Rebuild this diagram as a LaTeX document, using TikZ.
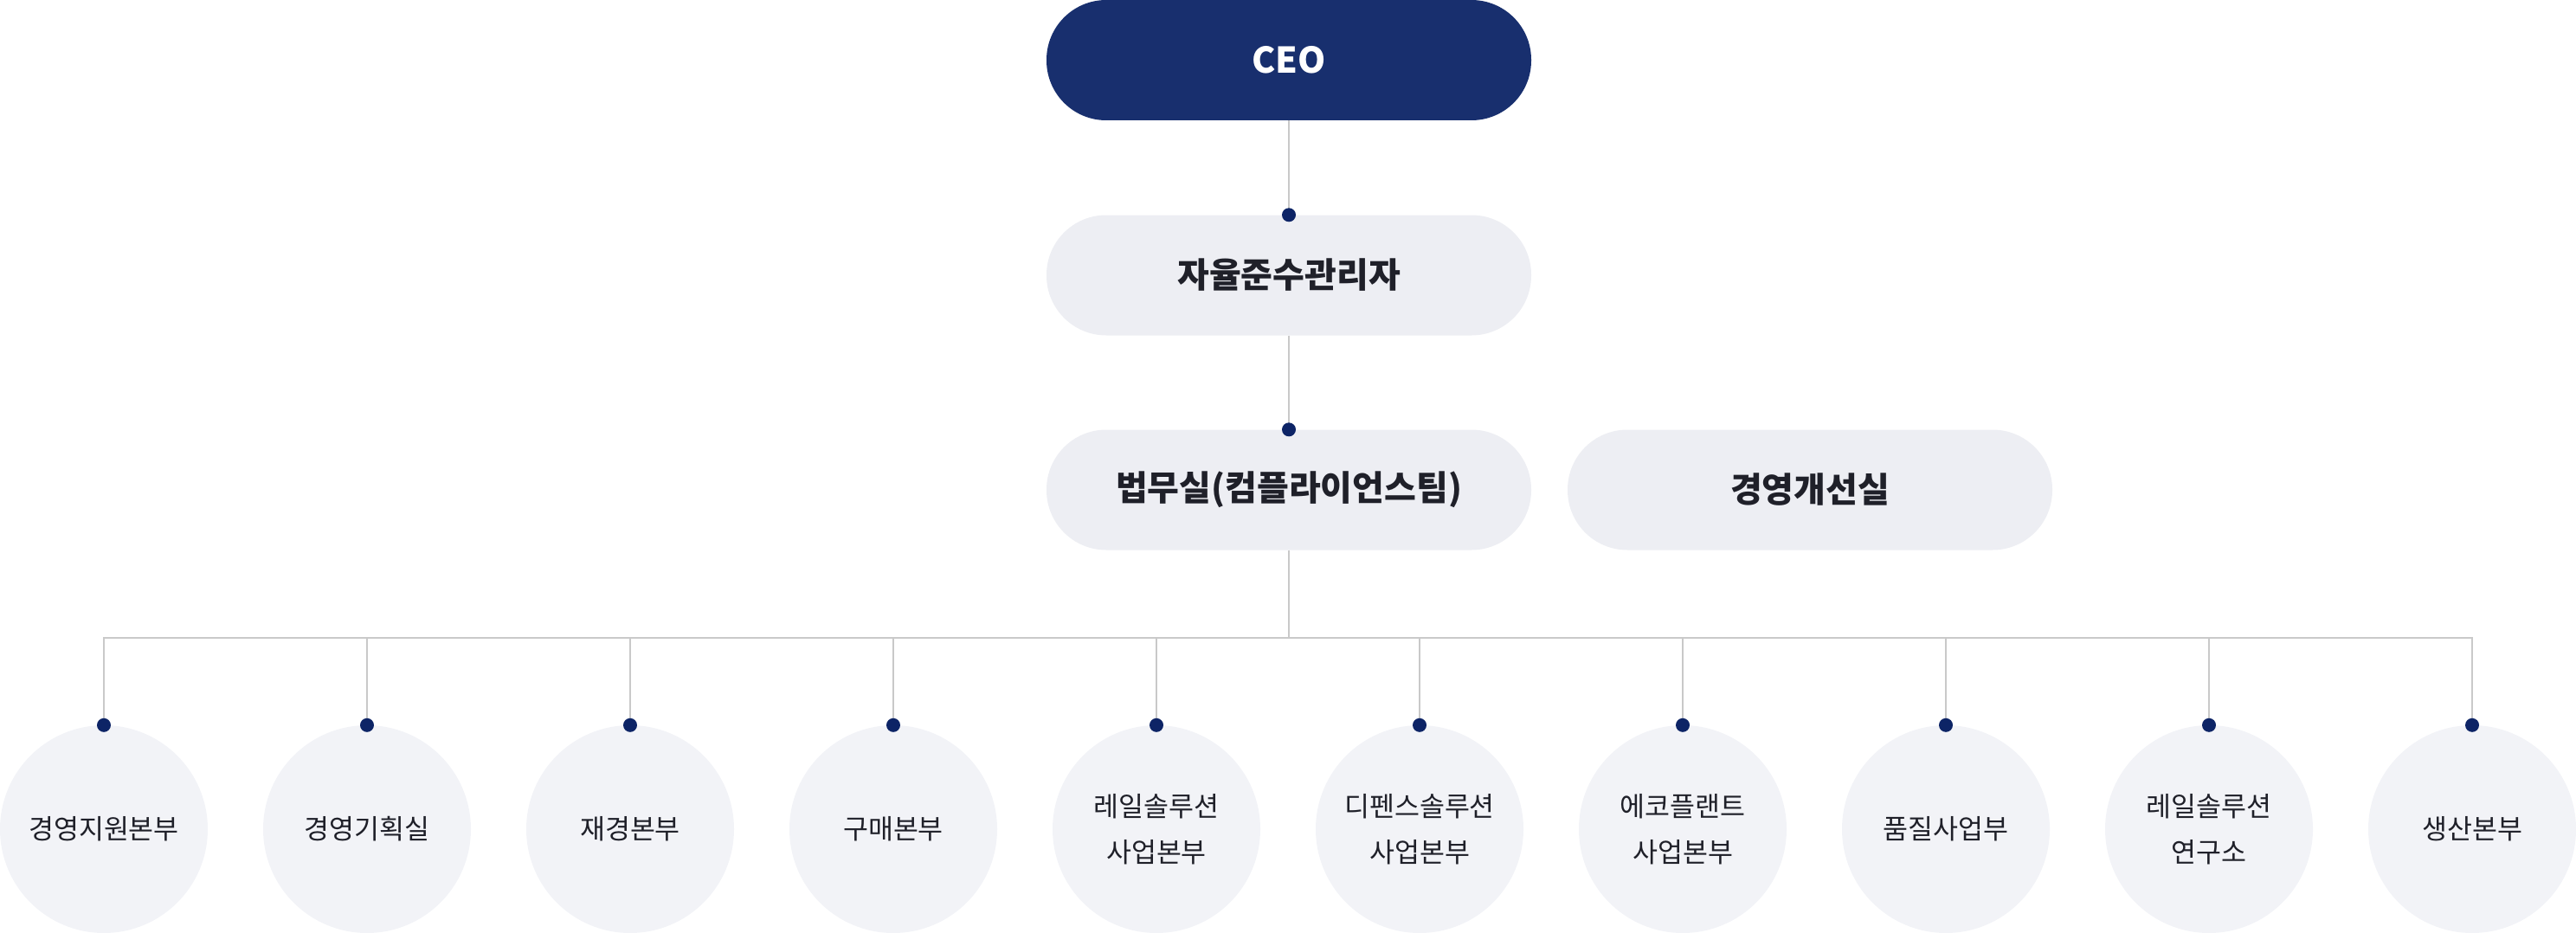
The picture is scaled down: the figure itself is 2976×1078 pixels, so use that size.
\documentclass[tikz,border=0pt]{standalone}
\usepackage{fontspec}
\setmainfont{Noto Sans CJK KR}
\newfontfamily\krfont{Noto Sans CJK KR}
\definecolor{ceoc}{HTML}{182F6E}
\definecolor{dotc}{HTML}{0D2466}
\definecolor{boxc}{HTML}{EDEEF3}
\definecolor{circc}{HTML}{F2F3F7}
\definecolor{linec}{HTML}{C9C9C9}
\definecolor{txtc}{HTML}{1F2029}
\tikzset{
  pill/.style={rectangle, rounded corners=69pt, minimum width=560pt, minimum height=139pt, inner sep=0pt, fill=boxc, text=txtc, font=\krfont\bfseries\fontsize{40}{48}\selectfont},
  ceopill/.style={pill, fill=ceoc, text=white, font=\krfont\bfseries\fontsize{41}{49}\selectfont},
  unit/.style={circle, minimum size=240pt, inner sep=0pt, fill=circc, text=txtc, align=center, font=\krfont\fontsize{31.5}{53}\selectfont},
  conn/.style={draw=linec, line width=2pt},
  dotmark/.style={fill=dotc}
}
\begin{document}
\begin{tikzpicture}[x=1pt,y=-1pt]
\useasboundingbox (0,0) rectangle (2976,1078);
\node[ceopill] (ceo) at (1489,69.5) {CEO};
\node[pill] (comp) at (1489,318) {자율준수관리자};
\node[pill] (legal) at (1489,566) {법무실(컴플라이언스팀)};
\node[pill] (mgmt) at (2091,566) {경영개선실};
\coordinate (bus) at (1489,737);
\foreach \i/\t in {0/경영지원본부,1/경영기획실,2/재경본부,3/구매본부,4/{레일솔루션\\사업본부},5/{디펜스솔루션\\사업본부},6/{에코플랜트\\사업본부},7/품질사업부,8/{레일솔루션\\연구소},9/생산본부}{
  \node[unit] (u\i) at (120+304*\i,958) {\t};
}
\draw[conn] (ceo.south) -- (comp.north);
\draw[conn] (comp.south) -- (legal.north);
\draw[conn] (legal.south) -- (bus);
\draw[conn] (u0.north) |- (u9.north |- bus) -- (u9.north);
\foreach \i in {1,...,8}{
  \draw[conn] (u\i.north |- bus) -- (u\i.north);
}
\foreach \n in {comp,legal,u0,u1,u2,u3,u4,u5,u6,u7,u8,u9}{
  \fill[dotmark] (\n.north) circle (8pt);
}
\end{tikzpicture}
\end{document}
